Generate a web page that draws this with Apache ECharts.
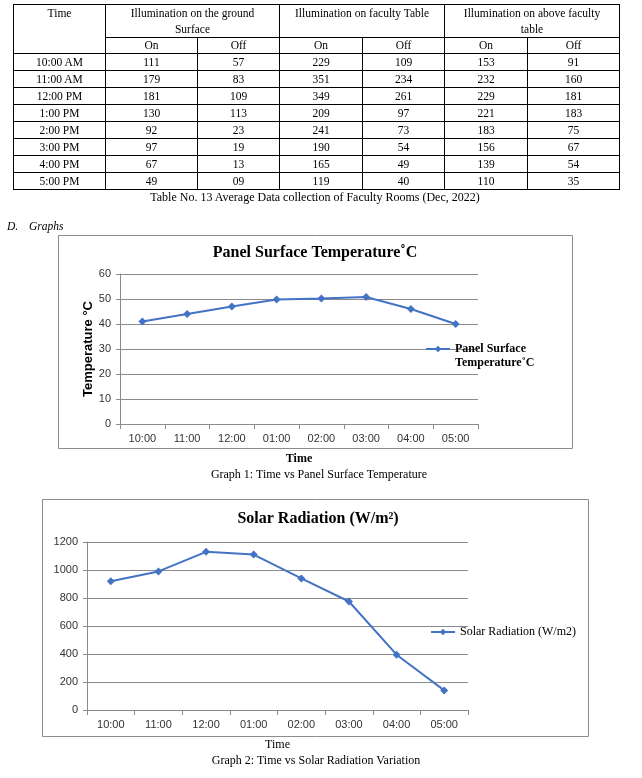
<!DOCTYPE html>
<html><head><meta charset="utf-8">
<script src="https://cdn.jsdelivr.net/npm/echarts@6/dist/echarts.min.js"></script>
<style>
html,body{margin:0;padding:0;background:#fff;width:642px;height:778px;overflow:hidden;}
#chart{position:absolute;left:0;top:0;width:642px;height:778px;}
.t{position:absolute;font-family:"Liberation Serif",serif;color:#000;white-space:nowrap;font-size:12px;line-height:14px;}
#tbl{position:absolute;left:13px;top:4px;border-collapse:collapse;table-layout:fixed;width:607px;font-family:"Liberation Serif",serif;font-size:11.5px;color:#000;}
#tbl td{border:1px solid #000;text-align:center;padding:0;line-height:15px;overflow:hidden;white-space:nowrap;}
#tbl tr.h1 td{vertical-align:top;line-height:16px;}
</style></head><body>
<div id="chart"></div>
<table id="tbl"></table>
<div class="t" style="left:0;width:630px;text-align:center;top:190px;">Table No. 13 Average Data collection of Faculty Rooms (Dec, 2022)</div>
<div class="t" style="left:7px;top:219px;font-style:italic;font-size:11.5px;">D.</div>
<div class="t" style="left:29px;top:219px;font-style:italic;font-size:11.5px;">Graphs</div>
<div class="t" style="left:0;width:638px;text-align:center;top:467px;">Graph 1: Time vs Panel Surface Temperature</div>
<div class="t" style="left:0;width:632px;text-align:center;top:753px;">Graph 2: Time vs Solar Radiation Variation</div>
<script>
// ---- Table data ----
const tableTimes = ['10:00 AM','11:00 AM','12:00 PM','1:00 PM','2:00 PM','3:00 PM','4:00 PM','5:00 PM'];
const groundOn = ['111','179','181','130','92','97','67','49'];
const groundOff = ['57','83','109','113','23','19','13','09'];
const facultyOn = ['229','351','349','209','241','190','165','119'];
const facultyOff = ['109','234','261','97','73','54','49','40'];
const aboveOn = ['153','232','229','221','183','156','139','110'];
const aboveOff = ['91','160','181','183','75','67','54','35'];

// ---- Chart data ----
const timeCategories = ['10:00','11:00','12:00','01:00','02:00','03:00','04:00','05:00'];
const panelTemperature = [41, 44, 47, 49.8, 50.2, 50.8, 46, 40];
const solarRadiation = [920, 990, 1130, 1110, 940, 775, 395, 140];

// ---- Build table ----
(function(){
  const colW = [92,92,82,83,82,83,92];
  let h = '<colgroup>' + colW.map(w=>'<col style="width:'+w+'px">').join('') + '</colgroup>';
  h += '<tr class="h1" style="height:32px"><td rowspan="2">Time</td>' +
       '<td colspan="2">Illumination on the ground<br>Surface</td>' +
       '<td colspan="2">Illumination on faculty Table</td>' +
       '<td colspan="2">Illumination on above faculty<br>table</td></tr>';
  h += '<tr style="height:16px"><td>On</td><td>Off</td><td>On</td><td>Off</td><td>On</td><td>Off</td></tr>';
  for (let i = 0; i < tableTimes.length; i++) {
    h += '<tr style="height:17px"><td>' + [tableTimes[i], groundOn[i], groundOff[i], facultyOn[i], facultyOff[i], aboveOn[i], aboveOff[i]].join('</td><td>') + '</td></tr>';
  }
  document.getElementById('tbl').innerHTML = h;
})();

// ---- Charts ----
const blue = '#4472C4';
const axisGray = '#8a8a8a';
const sans = 'Liberation Sans';
const serif = 'Liberation Serif';

function xAx(grid, nameBold, gap) {
  return {
    type:'category', gridIndex:grid, data:timeCategories, boundaryGap:true,
    axisLine:{lineStyle:{color:axisGray,width:1}},
    axisTick:{show:true,interval:0,length:5,lineStyle:{color:axisGray}},
    axisLabel:{interval:0,margin:9,fontFamily:sans,fontSize:11,color:'#333'},
    splitLine:{show:false},
    name:'Time', nameLocation:'middle', nameGap:gap, nameMoveOverlap:false,
    nameTextStyle:{fontFamily:serif,fontWeight:nameBold?'bold':'normal',fontSize:12,color:'#000'}
  };
}
function yAx(grid, max, interval, name) {
  const a = {
    type:'value', gridIndex:grid, min:0, max:max, interval:interval,
    axisLine:{show:true,lineStyle:{color:axisGray,width:1}},
    axisTick:{show:true,length:4,lineStyle:{color:axisGray}},
    axisLabel:{margin:9,fontFamily:sans,fontSize:11,color:'#333',formatter:(v)=>String(v)},
    splitLine:{show:true,lineStyle:{color:axisGray,width:1}}
  };
  if (name) {
    a.name = name; a.nameLocation = 'middle'; a.nameGap = 25; a.nameMoveOverlap = false;
    a.nameTextStyle = {fontFamily:sans,fontWeight:'bold',fontSize:13,color:'#000'};
  }
  return a;
}

const chart = echarts.init(document.getElementById('chart'), null, {renderer:'canvas'});
chart.setOption({
  animation:false,
  graphic:[
    {type:'rect', shape:{x:58.5,y:235.5,width:514,height:213}, style:{fill:'none',stroke:'#8c8c8c',lineWidth:1}, silent:true},
    {type:'rect', shape:{x:42.5,y:499.5,width:546,height:237}, style:{fill:'none',stroke:'#8c8c8c',lineWidth:1}, silent:true}
  ],
  title:[
    {text:'Panel Surface Temperature˚C', left:315, top:245, textAlign:'center', padding:0,
     textStyle:{fontFamily:serif,fontWeight:'bold',fontSize:16,color:'#000'}},
    {text:'Solar Radiation (W/m²)', left:318, top:511, textAlign:'center', padding:0,
     textStyle:{fontFamily:serif,fontWeight:'bold',fontSize:16,color:'#000'}}
  ],
  legend:[
    {data:['Panel Surface Temperature˚C'], left:425, top:328, padding:0, itemWidth:24, itemHeight:8,
     formatter:()=> '\nPanel Surface\nTemperature˚C', itemGap:0,
     textStyle:{fontFamily:serif,fontWeight:'bold',fontSize:12,color:'#000',lineHeight:14}},
    {data:['Solar Radiation (W/m2)'], left:430, top:626, padding:0, itemWidth:24, itemHeight:8,
     textStyle:{fontFamily:serif,fontSize:12,color:'#000'}}
  ],
  grid:[
    {left:120, top:274, width:358, height:150},
    {left:87, top:542, width:381, height:168}
  ],
  xAxis:[xAx(0,true,29), xAx(1,false,29)],
  yAxis:[yAx(0,60,10,'Temperature °C'), yAx(1,1200,200,null)],
  series:[
    {type:'line', name:'Panel Surface Temperature˚C', xAxisIndex:0, yAxisIndex:0, data:panelTemperature,
     symbol:'diamond', symbolSize:8, lineStyle:{width:2,color:blue}, itemStyle:{color:blue}},
    {type:'line', name:'Solar Radiation (W/m2)', xAxisIndex:1, yAxisIndex:1, data:solarRadiation,
     symbol:'diamond', symbolSize:8, lineStyle:{width:2,color:blue}, itemStyle:{color:blue}}
  ]
});
</script>
</body></html>
